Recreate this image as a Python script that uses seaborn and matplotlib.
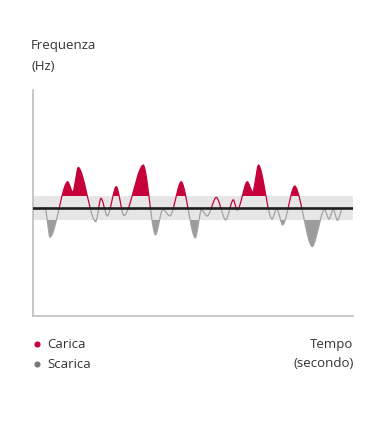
import numpy as np
import pandas as pd
import matplotlib
matplotlib.use("Agg")
import matplotlib.pyplot as plt
import seaborn as sns

# ---- data: local extrema of the frequency signal (time, deviation) ----
time_pts = [1.2, 1.7, 3.47, 3.97, 4.53, 6.27, 6.80, 7.43, 8.33, 9.10, 11.03, 12.25,
            12.97, 13.70, 14.82, 16.23, 16.83, 17.43, 18.33, 19.27, 20.03, 20.42,
            21.43, 21.97, 22.55, 23.90, 24.37, 24.97, 26.17, 27.92, 29.15, 29.60,
            30.02, 30.45, 30.95]
freq_pts = [0.0, -2.44, 2.19, 1.29, 3.38, -1.14, 0.81, -0.67, 1.78, -0.64, 3.58, -2.25,
            -0.11, -0.67, 2.19, -2.50, -0.17, -0.67, 0.89, -1.00, 0.69, -0.21,
            2.19, 1.32, 3.58, -0.94, -0.06, -1.42, 1.83, -3.22, -0.12, -0.93,
            -0.11, -1.04, -0.04]
band_half = 1.0
legend_labels = ["Carica", "Scarica"]
y_title = ["Frequenza", "(Hz)"]
x_title = ["Tempo", "(secondo)"]

RED = "#C7003A"
GRAY_FILL = "#9C9C9C"
GRAY_LINE = "#A3A3A3"
TXT = "#333333"

sns.set_theme(style="white")
plt.rcParams["font.family"] = ["Open Sans", "DejaVu Sans"]

# smooth rendering between extrema (eased segments with slightly sharp tips)
n = 120
s = np.linspace(0, 1, n + 1)
d = np.sin(np.pi * s) ** 0.7
w = np.concatenate([[0], np.cumsum((d[1:] + d[:-1]) / 2)])
w = w / w[-1]
s, w = s[:-1], w[:-1]

tt, vv = [], []
for i in range(len(time_pts) - 1):
    t0, t1 = time_pts[i], time_pts[i + 1]
    v0, v1 = freq_pts[i], freq_pts[i + 1]
    tt.append(t0 + (t1 - t0) * s)
    vv.append(v0 + (v1 - v0) * w)
tt.append([time_pts[-1]])
vv.append([freq_pts[-1]])
t = np.concatenate(tt)
v = np.concatenate(vv)

pos = v >= 0
run = np.concatenate([[0], np.cumsum(pos[1:] != pos[:-1])])
rows = []
for r in np.unique(run):
    idx = np.where(run == r)[0]
    if idx[-1] + 1 < len(t):
        idx = np.append(idx, idx[-1] + 1)
    sign = "pos" if pos[idx[0]] else "neg"
    for k in idx:
        rows.append((t[k], v[k], r, sign))
df = pd.DataFrame(rows, columns=["t", "v", "seg", "sign"])

fig = plt.figure(figsize=(3.84, 4.24), dpi=100)
ax = fig.add_axes([33 / 384, 1 - 316 / 424, 320 / 384, 226 / 424])
ax.set_xlim(0, 32)
ax.set_ylim(-9, 9.83)

ax.axhspan(-band_half, band_half, color="#E6E6E6", lw=0, zorder=0)
ax.fill_between(t, band_half, v, where=v > band_half, interpolate=True,
                color=RED, lw=0, zorder=2)
ax.fill_between(t, -band_half, v, where=v < -band_half, interpolate=True,
                color=GRAY_FILL, lw=0, zorder=2)
sns.lineplot(data=df, x="t", y="v", hue="sign", units="seg", estimator=None,
             sort=False, palette={"pos": RED, "neg": GRAY_LINE}, lw=0.9,
             legend=False, ax=ax, zorder=3)
ax.axhline(0, color="#1E1E1E", lw=1.9, zorder=4)

for side in ["top", "right"]:
    ax.spines[side].set_visible(False)
for side in ["left", "bottom"]:
    ax.spines[side].set_color("#BDBDBD")
    ax.spines[side].set_linewidth(1.2)
ax.set_xticks([])
ax.set_yticks([])
ax.set_xlabel("")
ax.set_ylabel("")
ax.set_facecolor("none")

fs = 9.5
def fy(y):
    return 1 - y / 424

fig.text(31 / 384, fy(49.5), y_title[0], fontsize=fs, color=TXT, va="baseline")
fig.text(31 / 384, fy(70.5), y_title[1], fontsize=fs, color=TXT, va="baseline")
fig.text(353.5 / 384, fy(348.3), x_title[0], fontsize=fs, color=TXT, va="baseline", ha="right")
fig.text(353.5 / 384, fy(367), x_title[1], fontsize=fs, color=TXT, va="baseline", ha="right")

for lab, col, yb, yd in [(legend_labels[0], RED, 348.3, 344),
                         (legend_labels[1], "#777777", 368.3, 363.5)]:
    fig.text(47.5 / 384, fy(yb), lab, fontsize=fs, color=TXT, va="baseline")
    fig.add_artist(plt.Line2D([36.7 / 384], [fy(yd)], marker="o", markersize=3.4,
                              color=col, lw=0, transform=fig.transFigure))

fig.savefig("out.png", dpi=100, facecolor="white")
